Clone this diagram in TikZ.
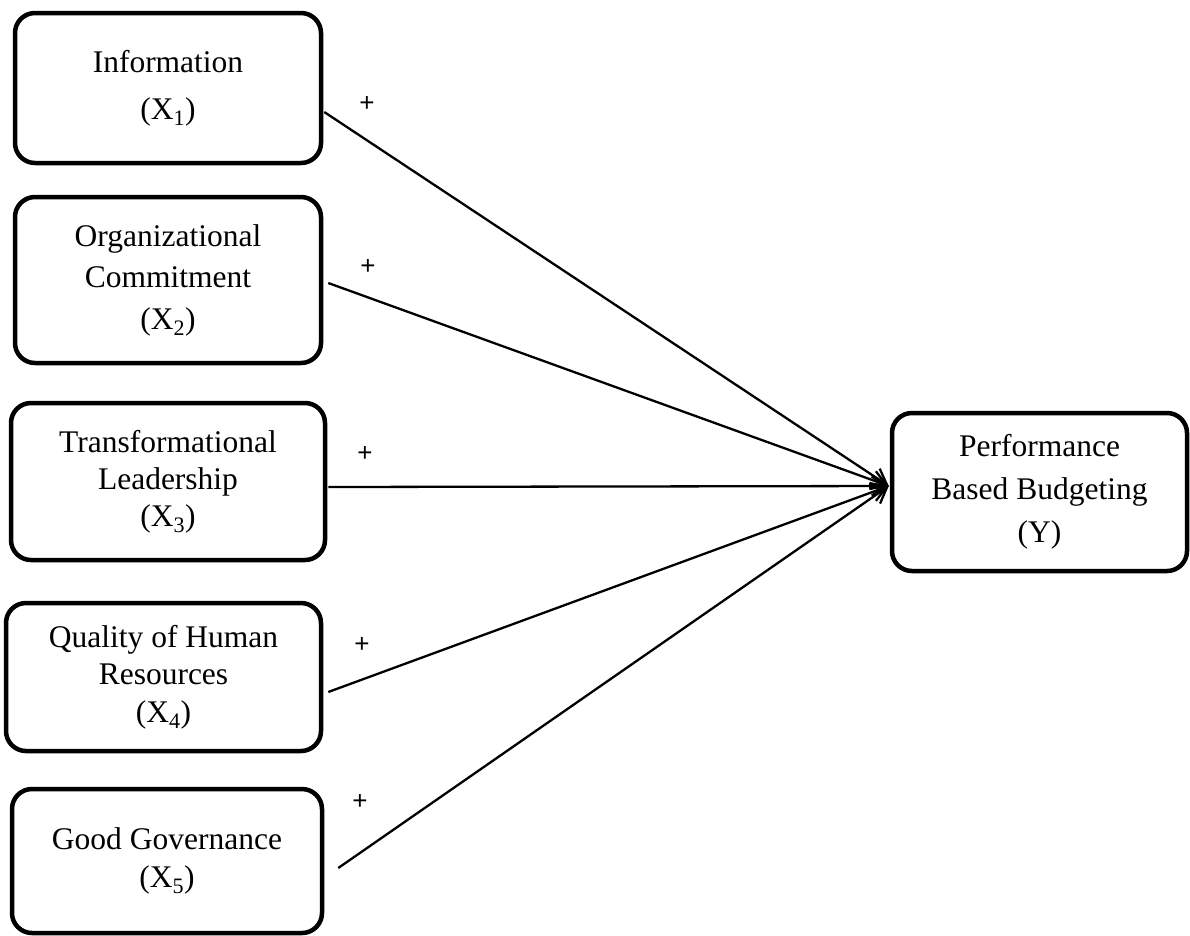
\documentclass[tikz,border=0pt]{standalone}
\usepackage{fontspec}
\setmainfont{Liberation Serif}
\newfontfamily\plusfont{Liberation Sans}
\usetikzlibrary{arrows.meta,calc}
\begin{document}
\begin{tikzpicture}[x=1pt,y=-1pt,
  box/.style={draw, line width=4.5pt, rounded corners=20pt, inner sep=0pt, align=center},
  txt/.style={font=\fontsize{31.5}{#1}\selectfont},
  link/.style={line width=2.3pt, -{Straight Barb[length=15pt,width=19pt,line width=2.3pt]}},
  sign/.style={font=\plusfont\fontsize{26}{26}\selectfont, inner sep=0pt}]
\useasboundingbox (0,0) rectangle (1190,935);

\node[box, txt=47, minimum width=306pt, minimum height=150pt] (b1) at (168,88) {Information\\(X\textsubscript{1})};
\node[box, txt=41.5, minimum width=306pt, minimum height=166pt] (b2) at (168,280) {Organizational\\Commitment\\(X\textsubscript{2})};
\node[box, txt=37, minimum width=314pt, minimum height=157pt] (b3) at (168,481.5) {Transformational\\Leadership\\(X\textsubscript{3})};
\node[box, txt=37.5, minimum width=315pt, minimum height=148pt] (b4) at (163.5,677) {Quality of Human\\Resources\\(X\textsubscript{4})};
\node[box, txt=38, minimum width=310pt, minimum height=144pt] (b5) at (167,861) {Good Governance\\(X\textsubscript{5})};
\node[box, txt=43, minimum width=295pt, minimum height=158pt] (Y) at (1039.5,492) {Performance\\Based Budgeting\\(Y)};

\coordinate (tip) at ($(Y.west)+(-1,-6)$);

\draw[link] ($(b1.east)+(1,24)$) -- (tip);
\draw[link] ($(b2.east)+(5,3)$) -- (tip);
\draw[link] ($(b3.east)+(1,5.5)$) -- (tip);
\draw[link] ($(b4.east)+(5,15)$) -- (tip);
\draw[link] ($(b5.east)+(14,7)$) -- (tip);

\node[sign] (p1) at (367,104) {+};
\node[sign] (p2) at (368,267) {+};
\node[sign] (p3) at (365,454) {+};
\node[sign] (p4) at (362,645) {+};
\node[sign] (p5) at (360,802) {+};
\end{tikzpicture}
\end{document}
